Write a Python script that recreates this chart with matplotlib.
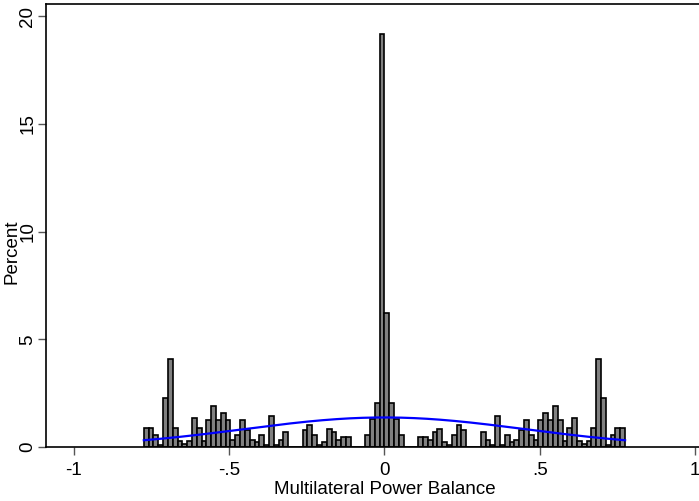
import numpy as np
import matplotlib
matplotlib.use("Agg")
import matplotlib.pyplot as plt

plt.rcParams['font.family'] = ['Liberation Sans', 'DejaVu Sans']

# histogram of Multilateral Power Balance, percent per bin (100 bins)
bin_start = -0.775
bin_width = 0.0155
percent = [
    0.88, 0.88, 0.56, 0.09, 2.26, 4.07, 0.88, 0.30, 0.15, 0.30,
    1.33, 0.88, 0.30, 1.24, 1.92, 1.24, 1.58, 1.24, 0.32, 0.56,
    1.24, 0.77, 0.32, 0.22, 0.56, 0.10, 1.45, 0.10, 0.34, 0.68,
    0.00, 0.00, 0.00, 0.77, 1.02, 0.56, 0.10, 0.22, 0.83, 0.68,
    0.32, 0.45, 0.45, 0.00, 0.00, 0.00, 0.56, 1.30, 2.05, 19.15,
    6.20, 2.05, 1.30, 0.56, 0.00, 0.00, 0.00, 0.45, 0.45, 0.32,
    0.68, 0.83, 0.22, 0.10, 0.56, 1.02, 0.77, 0.00, 0.00, 0.00,
    0.68, 0.34, 0.10, 1.45, 0.10, 0.56, 0.22, 0.32, 0.77, 1.24,
    0.56, 0.32, 1.24, 1.58, 1.24, 1.92, 1.24, 0.30, 0.88, 1.33,
    0.30, 0.15, 0.30, 0.88, 4.07, 2.26, 0.09, 0.56, 0.88, 0.88,
]

# normal overlay (sample mean / sd)
mu = 0.0
sigma = 0.451

xticks = [-1, -0.5, 0, 0.5, 1]
xticklabels = ['-1', '-.5', '0', '.5', '1']
yticks = [0, 5, 10, 15, 20]

fig = plt.figure(figsize=(6.99, 5.01), dpi=100)
ax = fig.add_axes([46 / 699, 1 - 447 / 501, 1 - 46 / 699, 443 / 501])

lefts = bin_start + bin_width * np.arange(len(percent))
ax.bar(lefts, percent, width=bin_width, align='edge',
       color='#808080', edgecolor='black', linewidth=1.2, zorder=2)

xs = np.linspace(bin_start, -bin_start, 300)
dens = 100 * bin_width * np.exp(-(xs - mu) ** 2 / (2 * sigma ** 2)) / (sigma * np.sqrt(2 * np.pi))
ax.plot(xs, dens, color='#0000ff', linewidth=1.6, zorder=3)

ax.set_xlim(-1.09, 1.013)
ax.set_ylim(0, 20.56)
ax.set_xticks(xticks)
ax.set_xticklabels(xticklabels, fontsize=13.5)
ax.set_yticks(yticks)
ax.set_yticklabels([str(v) for v in yticks], fontsize=13.5, rotation=90, va='center')
ax.tick_params(direction='out', length=6, width=1, color='#555555')
ax.tick_params(axis='x', pad=5)
ax.tick_params(axis='y', pad=1)

ax.spines['right'].set_visible(False)
for s in ['left', 'bottom', 'top']:
    ax.spines[s].set_linewidth(1.2)
    ax.spines[s].set_color('black')

ax.set_xlabel('Multilateral Power Balance', fontsize=13.5)
ax.xaxis.set_label_coords((385 - 46) / 653, -(489 - 447) / 443)
ax.xaxis.label.set_va('center')
ax.set_ylabel('Percent', fontsize=13.5)
ax.yaxis.set_label_coords(-(46 - 12) / 653, (447 - 252) / 443)
ax.yaxis.label.set_va('center')

fig.savefig('out.png', dpi=100)
